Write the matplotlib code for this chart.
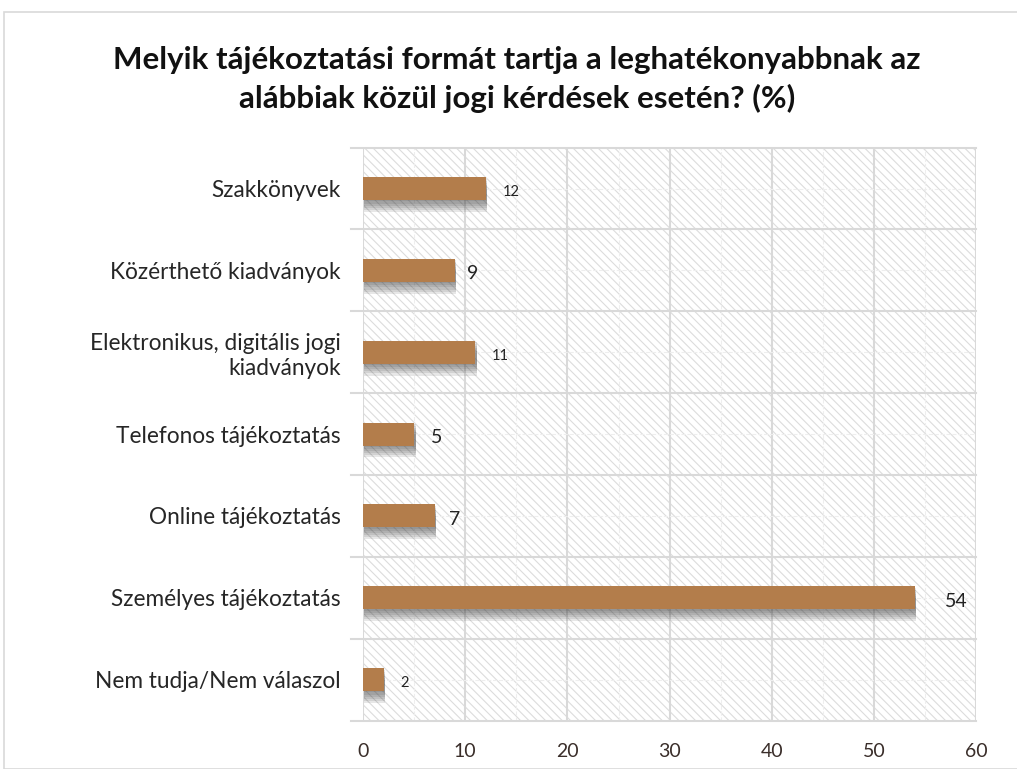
import matplotlib.pyplot as plt
import matplotlib.patheffects as pe
from matplotlib.patches import Rectangle

# Data__________________________________________________________________________
categories = ["Szakkönyvek", "Közérthető kiadványok",
              "Elektronikus, digitális jogi\nkiadványok", "Telefonos tájékoztatás",
              "Online tájékoztatás", "Személyes tájékoztatás", "Nem tudja/Nem válaszol"]
values = [12, 9, 11, 5, 7, 54, 2]
x_ticks = [0, 10, 20, 30, 40, 50, 60]

# label styling as in the original (sizes / gaps differ per label)
label_sizes = [10.5, 14, 10.5, 14, 14, 14, 10.5]
label_gaps = [1.7, 1.2, 1.6, 1.6, 1.4, 2.9, 1.6]

plt.rcParams['font.family'] = ['Lato', 'DejaVu Sans']
plt.rcParams['hatch.linewidth'] = 0.8
plt.rcParams['hatch.color'] = '#d9d9d9'

fig = plt.figure(figsize=(10.17, 7.69), dpi=100)
fig.patches.append(Rectangle((0.004, 0.0), 1.0, 0.984, transform=fig.transFigure,
                             fill=False, edgecolor='#d9d9d9', lw=1.2, zorder=0))
ax = fig.add_axes([0.357, 0.063, 0.603, 0.745])

n = len(categories)
pos = list(range(n))[::-1]

ax.add_patch(Rectangle((0, -0.5), 60, n, facecolor='white', edgecolor='#dcdcdc',
                       hatch='\\\\\\\\', lw=0, zorder=0))
# grid lines
for x in x_ticks:
    ax.axvline(x, color='#d9d9d9', lw=1.5, zorder=1)
for x in range(5, 60, 10):
    ax.axvline(x, color='#eeeeee', lw=0.8, ls='--', zorder=1)
for k in range(n + 1):
    ax.plot([-1.2, 60], [k - 0.5, k - 0.5], color='#d9d9d9', lw=1.5, zorder=1, clip_on=False)
for p in pos:
    ax.axhline(p, color='#eeeeee', lw=0.8, ls='--', zorder=1)

bars = ax.barh(pos, values, height=0.28, color='#b37d4b', zorder=3)
shadow = [pe.SimplePatchShadow(offset=(1, -o), shadow_rgbFace='#404040', alpha=0.12)
          for o in (1, 2.5, 4, 5.5, 7, 8.5)]
for b in bars:
    b.set_path_effects(shadow + [pe.Normal()])

for p, v, s, g in zip(pos, values, label_sizes, label_gaps):
    ax.text(v + g, p - 0.04, str(v), va='center', ha='left', fontsize=s,
            color='#222222', zorder=4)

ax.set_xlim(0, 60)
ax.set_ylim(-0.5, n - 0.5)
ax.set_xticks(x_ticks)
ax.set_xticklabels([str(t) for t in x_ticks], fontsize=14, color='#3a2e2a')
ax.set_yticks(pos)
ax.set_yticklabels(categories, fontsize=16.3, color='#262626', ha='right', multialignment='right')
ax.tick_params(axis='both', length=0)
ax.tick_params(axis='x', pad=16)
ax.tick_params(axis='y', pad=16)
for sp in ax.spines.values():
    sp.set_visible(False)

fig.text(0.508, 0.897, "Melyik tájékoztatási formát tartja a leghatékonyabbnak az\nalábbiak közül jogi kérdések esetén? (%)",
         ha='center', va='center', fontsize=22.5, fontweight='bold', color='#111111', linespacing=1.4)

fig.savefig('out.png', dpi=100)
